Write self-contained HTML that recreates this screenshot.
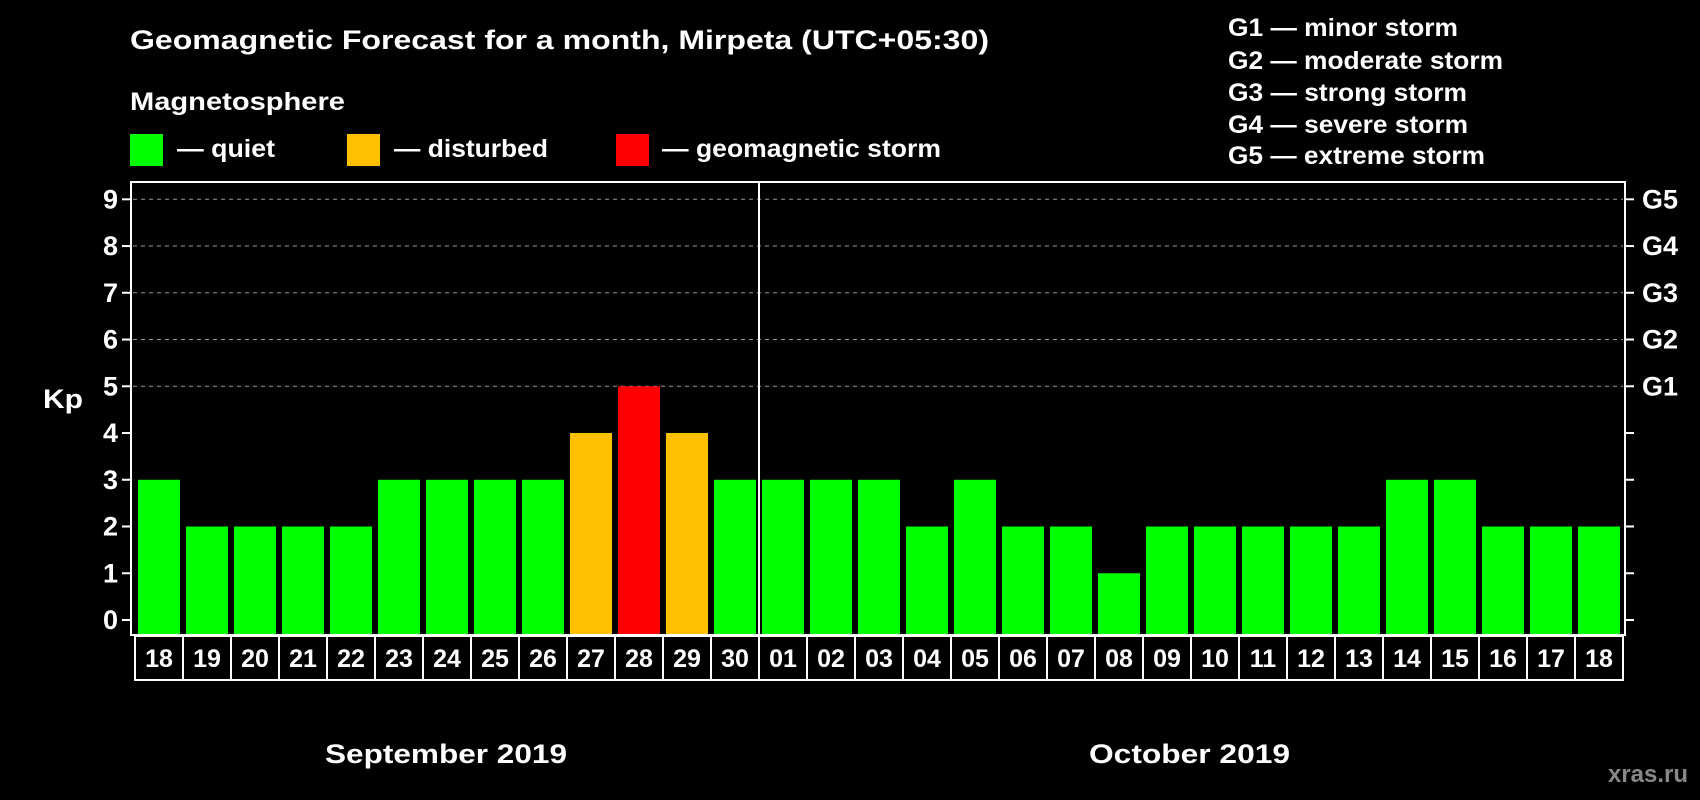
<!DOCTYPE html>
<html><head><meta charset="utf-8"><style>
html,body{margin:0;padding:0;background:#000;}
svg{display:block;font-family:"Liberation Sans",Arial,sans-serif;font-weight:bold;}
</style></head><body>
<svg id="chart" width="1700" height="800" viewBox="0 0 1700 800" xmlns="http://www.w3.org/2000/svg">
<rect x="0" y="0" width="1700" height="800" fill="#000"/>
<text x="130" y="49" fill="#fff" font-size="27" textLength="859" lengthAdjust="spacingAndGlyphs">Geomagnetic Forecast for a month, Mirpeta (UTC+05:30)</text>
<text x="130" y="110" fill="#fff" font-size="25" textLength="215" lengthAdjust="spacingAndGlyphs">Magnetosphere</text>
<g>
<rect x="130" y="134" width="33" height="32" fill="#00ff00"/>
<text x="177" y="157" fill="#fff" font-size="25" textLength="98" lengthAdjust="spacingAndGlyphs">— quiet</text>
<rect x="347" y="134" width="33" height="32" fill="#ffc000"/>
<text x="394" y="157" fill="#fff" font-size="25" textLength="154" lengthAdjust="spacingAndGlyphs">— disturbed</text>
<rect x="616" y="134" width="33" height="32" fill="#ff0000"/>
<text x="662" y="157" fill="#fff" font-size="25" textLength="279" lengthAdjust="spacingAndGlyphs">— geomagnetic storm</text>
</g>
<g font-size="25" fill="#fff">
<text x="1228" y="36" textLength="230" lengthAdjust="spacingAndGlyphs">G1 — minor storm</text>
<text x="1228" y="69" textLength="275" lengthAdjust="spacingAndGlyphs">G2 — moderate storm</text>
<text x="1228" y="101" textLength="239" lengthAdjust="spacingAndGlyphs">G3 — strong storm</text>
<text x="1228" y="133" textLength="240" lengthAdjust="spacingAndGlyphs">G4 — severe storm</text>
<text x="1228" y="164" textLength="257" lengthAdjust="spacingAndGlyphs">G5 — extreme storm</text>
</g>
<g id="plot"></g>
<text x="43" y="408" fill="#fff" font-size="27" textLength="40" lengthAdjust="spacingAndGlyphs">Kp</text>
<text x="325" y="763" fill="#fff" font-size="27" textLength="242" lengthAdjust="spacingAndGlyphs">September 2019</text>
<text x="1089" y="763" fill="#fff" font-size="27" textLength="201" lengthAdjust="spacingAndGlyphs">October 2019</text>
<text x="1688" y="782" fill="#888" font-size="24" text-anchor="end">xras.ru</text>
</svg>
<script>
const days = ["18","19","20","21","22","23","24","25","26","27","28","29","30","01","02","03","04","05","06","07","08","09","10","11","12","13","14","15","16","17","18"];
const kpValues = [3,2,2,2,2,3,3,3,3,4,5,4,3,3,3,3,2,3,2,2,1,2,2,2,2,2,3,3,2,2,2];
const yTicks = [0,1,2,3,4,5,6,7,8,9];
const gLabels = ["G1","G2","G3","G4","G5"];
const gLevels = [5,6,7,8,9];
const monthBreakIndex = 13;

const NS = "http://www.w3.org/2000/svg";
const plot = document.getElementById("plot");
const L = 131, R = 1625, T = 182, B = 635;
const y0 = 620, unit = (620 - 199.3) / 9;
const x0 = 135, step = 48;
function y(v){ return y0 - v * unit; }
function x(i){ return x0 + i * step; }
function mk(tag, attrs){ const e = document.createElementNS(NS, tag); for (const k in attrs) e.setAttribute(k, attrs[k]); plot.appendChild(e); return e; }
function color(v){ return v >= 5 ? "#ff0000" : (v >= 4 ? "#ffc000" : "#00ff00"); }

gLevels.forEach(v => {
  const g = mk("line", {x1: L + 2, x2: R - 2, y1: y(v), y2: y(v), stroke: "#999", "stroke-width": 1, "stroke-dasharray": "4,4"});
  
  
});
kpValues.forEach((v, i) => {
  const b = mk("rect", {x: x(i) + 3, y: y(v), width: 42, height: B - y(v), fill: color(v)});
  
  
});
const fr = mk("rect", {x: L, y: T, width: R - L, height: B - T, fill: "none", stroke: "#fff", "stroke-width": 2});


const sep = mk("line", {x1: x(monthBreakIndex), x2: x(monthBreakIndex), y1: T, y2: B, stroke: "#fff", "stroke-width": 2});


yTicks.forEach(v => {
  const t = mk("line", {x1: L - 9, x2: L, y1: y(v), y2: y(v), stroke: "#fff", "stroke-width": 2});
  
  
  const t2 = mk("line", {x1: R, x2: R + 9, y1: y(v), y2: y(v), stroke: "#fff", "stroke-width": 2});
  
  
  const lb = mk("text", {x: 118, y: y(v) + 9, fill: "#fff", "font-size": 27, "text-anchor": "end"});
  lb.textContent = v;
  
  
});
gLabels.forEach((g, i) => {
  const lb = mk("text", {x: 1642, y: y(gLevels[i]) + 9, fill: "#fff", "font-size": 27});
  lb.textContent = g;
  
  
});
days.forEach((d, i) => {
  const bx = mk("rect", {x: x(i), y: 636, width: step, height: 44, fill: "none", stroke: "#fff", "stroke-width": 2});
  
  
  const t = mk("text", {x: x(i) + step / 2, y: 667, fill: "#fff", "font-size": 25, "text-anchor": "middle"});
  t.textContent = d;
  
  
});
</script>
</body></html>
